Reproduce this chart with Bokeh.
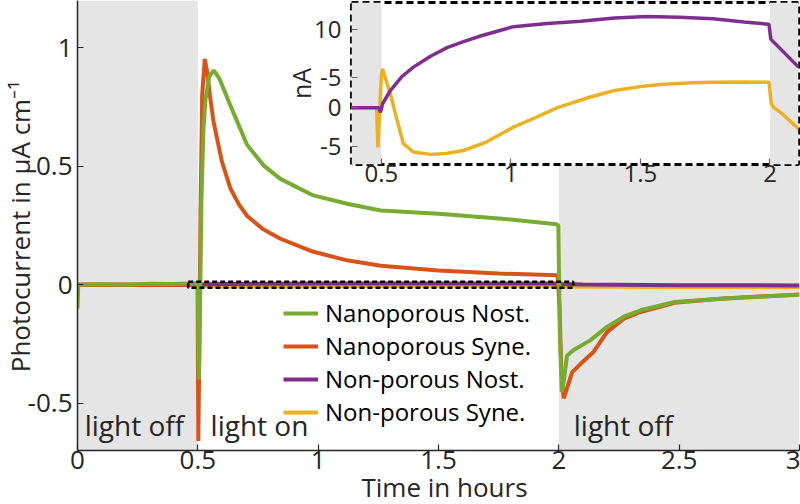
from math import pi
from bokeh.plotting import figure
from bokeh.models import BoxAnnotation, Label, Legend, LegendItem, FixedTicker
from bokeh.embed import file_html
from bokeh.resources import INLINE

# ---------------- data ----------------
# Main chart, photocurrent in µA cm^-1 vs time in hours
green_t = [0, 0.003, 0.01, 0.1, 0.2, 0.3, 0.4, 0.49, 0.5, 0.504, 0.509, 0.515, 0.523,
           0.532, 0.548, 0.566, 0.59, 0.636, 0.705, 0.774, 0.843, 0.98, 1.12, 1.26, 1.5,
           1.75, 1.99, 1.998, 2.004, 2.012, 2.02, 2.034, 2.06, 2.13, 2.2, 2.27, 2.34,
           2.48, 2.68, 3.0]
green_v = [-0.1, 0.0, 0.0, 0.002, 0.0, 0.004, 0.003, 0.006, 0.005, -0.4, -0.1, 0.35, 0.65,
           0.785, 0.88, 0.905, 0.87, 0.755, 0.59, 0.503, 0.447, 0.377, 0.342, 0.313, 0.30,
           0.28, 0.255, 0.25, -0.2, -0.453, -0.41, -0.30, -0.277, -0.235, -0.178, -0.135,
           -0.108, -0.073, -0.059, -0.042]

orange_t = [0, 0.1, 0.3, 0.499, 0.502, 0.506, 0.511, 0.518, 0.529, 0.54, 0.55, 0.565, 0.6,
            0.636, 0.67, 0.705, 0.77, 0.843, 0.98, 1.12, 1.26, 1.5, 1.75, 1.995, 2.003,
            2.01, 2.02, 2.03, 2.055, 2.10, 2.145, 2.2, 2.27, 2.34, 2.48, 2.68, 3.0]
orange_v = [0.0, 0.0, 0.0, 0.0, -0.66, -0.3, 0.3, 0.8, 0.953, 0.89, 0.8, 0.69, 0.52,
            0.405, 0.34, 0.29, 0.235, 0.194, 0.139, 0.103, 0.08, 0.06, 0.047, 0.04, -0.1,
            -0.35, -0.48, -0.45, -0.37, -0.325, -0.283, -0.2, -0.143, -0.115, -0.076,
            -0.058, -0.041]

purple_t = [0, 0.5, 0.52, 0.6, 0.8, 1.0, 1.5, 2.0, 2.01, 2.1, 2.5, 3.0]
purple_v = [0, 0, 0.001, 0.003, 0.004, 0.005, 0.005, 0.005, 0.003, 0.001, -0.002, -0.003]

yellow_t = [0, 0.5, 0.52, 0.6, 1.0, 1.5, 2.0, 2.01, 2.5, 3.0]
yellow_v = [0, 0, -0.004, -0.008, -0.006, -0.004, -0.004, -0.008, -0.01, -0.01]

# Inset, current in nA
ins_purple_t = [0.385, 0.49, 0.497, 0.505, 0.535, 0.58, 0.624, 0.69, 0.754, 0.82, 0.883,
                1.01, 1.14, 1.27, 1.4, 1.527, 1.65, 1.78, 1.9, 1.996, 2.003, 2.11]
ins_purple_v = [0, 0, -0.6, 0.5, 2.2, 4.0, 5.2, 6.6, 7.7, 8.5, 9.2, 10.4, 10.8, 11.1,
                11.5, 11.7, 11.6, 11.4, 11.0, 10.7, 8.8, 5.2]

ins_yellow_t = [0.385, 0.482, 0.487, 0.493, 0.5, 0.505, 0.512, 0.535, 0.56, 0.585, 0.624,
                0.69, 0.75, 0.817, 0.9, 1.01, 1.1, 1.18, 1.3, 1.4, 1.5, 1.59, 1.7, 1.78,
                1.9, 1.996, 2.005, 2.015, 2.04, 2.11]
ins_yellow_v = [0, 0, -5.1, -1.0, 4.0, 5.0, 4.2, 1.75, -1.5, -4.6, -5.7, -6.0, -5.9, -5.5,
                -4.5, -2.5, -1.2, 0.0, 1.3, 2.2, 2.7, 3.0, 3.2, 3.25, 3.3, 3.25, 0.5, 0.0,
                -0.6, -2.7]

series_names = ["Nanoporous Nost.", "Nanoporous Syne.", "Non-porous Nost.", "Non-porous Syne."]
light_on, light_off = 0.5, 2.0
zoom_box_x = [0.46, 2.06]
zoom_box_y = [-0.013, 0.013]

x_ticks = [0, 0.5, 1, 1.5, 2, 2.5, 3]
x_labels = ["0", "0.5", "1", "1.5", "2", "2.5", "3"]
y_ticks = [-0.5, 0, 0.5, 1]
y_labels = ["-0.5", "0", "0.5", "1"]
ins_x_ticks = [0.5, 1, 1.5, 2]
ins_x_labels = ["0.5", "1", "1.5", "2"]
ins_y_ticks = [-5, 0, 3.85, 10]
ins_y_labels = ["-5", "0", "-5", "10"]

x_title = "Time in hours"
y_title = "Photocurrent in µA cm⁻¹"
ins_y_title = "nA"

# ---------------- style ----------------
FONT = "Open Sans"
TXT = "#262626"
GRAY = "#e5e5e5"
C_GREEN, C_ORANGE, C_PURPLE, C_YELLOW = "#77ac30", "#d95319", "#7e2f8e", "#edb120"

# ---------------- main figure ----------------
p = figure(width=800, height=504, x_range=(0, 3), y_range=(-0.7, 1.2),
           output_backend="svg", toolbar_location=None,
           min_border_left=77, min_border_right=1, min_border_top=0, min_border_bottom=54)
p.xgrid.visible = False
p.ygrid.visible = False
p.outline_line_color = None
p.background_fill_color = "white"
p.border_fill_color = "white"

p.add_layout(BoxAnnotation(right=light_on, fill_color=GRAY, fill_alpha=1, line_alpha=0, level="underlay"))
p.add_layout(BoxAnnotation(left=light_off, fill_color=GRAY, fill_alpha=1, line_alpha=0, level="underlay"))

r_y = p.line(yellow_t, yellow_v, line_color=C_YELLOW, line_width=4)
r_p = p.line(purple_t, purple_v, line_color=C_PURPLE, line_width=4)
r_o = p.line(orange_t, orange_v, line_color=C_ORANGE, line_width=4)
r_g = p.line(green_t, green_v, line_color=C_GREEN, line_width=4)

p.quad(left=[zoom_box_x[0]], right=[zoom_box_x[1]], bottom=[zoom_box_y[0]], top=[zoom_box_y[1]],
       fill_alpha=0, line_color="black", line_width=2.5, line_dash="5 3")

for x, txt in [(0.03, "light off"), (0.553, "light on"), (2.062, "light off")]:
    p.add_layout(Label(x=x, y=-0.593, text=txt, text_font=FONT, text_font_size="28px",
                       text_color=TXT, text_baseline="alphabetic"))

legend = Legend(items=[LegendItem(label=n, renderers=[r])
                       for n, r in zip(series_names, [r_g, r_o, r_p, r_y])],
                location=(206, 22), border_line_color=None, background_fill_alpha=0,
                padding=0, margin=0, spacing=0, glyph_width=35, glyph_height=30,
                label_standoff=7, label_text_font=FONT, label_text_font_size="24px",
                label_text_color="black")
p.add_layout(legend)

for ax in (p.xaxis[0], p.yaxis[0]):
    ax.axis_line_color = TXT
    ax.axis_line_width = 1.5
    ax.major_tick_line_color = TXT
    ax.major_tick_line_width = 1.2
    ax.major_tick_in = 6
    ax.major_tick_out = 0
    ax.minor_tick_line_color = None
    ax.major_label_text_font = FONT
    ax.major_label_text_font_size = "26px"
    ax.major_label_text_color = TXT

p.xaxis.ticker = FixedTicker(ticks=x_ticks)
p.xaxis.major_label_overrides = dict(zip(x_ticks, x_labels))
p.xaxis.major_label_standoff = 0

p.yaxis.ticker = FixedTicker(ticks=y_ticks)
p.yaxis.major_label_overrides = dict(zip(y_ticks, y_labels))
p.yaxis.major_label_standoff = 5

# ---------------- inset figure ----------------
ins = figure(width=521, height=206, x_range=(0.385, 2.11), y_range=(-7.3, 13.5),
             output_backend="svg", toolbar_location=None,
             min_border_left=72, min_border_right=2, min_border_top=2, min_border_bottom=42,
             styles={"position": "absolute", "left": "279px", "top": "0px"})
ins.xgrid.visible = False
ins.ygrid.visible = False
ins.border_fill_color = None
ins.background_fill_color = "white"
ins.outline_line_color = "black"
ins.outline_line_width = 3
ins.outline_line_dash = "7 4"

ins.add_layout(BoxAnnotation(right=light_on, fill_color=GRAY, fill_alpha=1, line_alpha=0, level="underlay"))
ins.add_layout(BoxAnnotation(left=light_off, fill_color=GRAY, fill_alpha=1, line_alpha=0, level="underlay"))

ins.line(ins_yellow_t, ins_yellow_v, line_color=C_YELLOW, line_width=3.5)
ins.line(ins_purple_t, ins_purple_v, line_color=C_PURPLE, line_width=3.5)

for ax in (ins.xaxis[0], ins.yaxis[0]):
    ax.axis_line_color = None
    ax.major_tick_line_color = "#666666"
    ax.major_tick_line_width = 1.2
    ax.major_tick_in = 6
    ax.major_tick_out = 0
    ax.minor_tick_line_color = None
    ax.major_label_text_font = FONT
    ax.major_label_text_font_size = "24px"
    ax.major_label_text_color = TXT

ins.xaxis.ticker = FixedTicker(ticks=ins_x_ticks)
ins.xaxis.major_label_overrides = dict(zip(ins_x_ticks, ins_x_labels))
ins.xaxis.major_label_standoff = 0
ins.yaxis.ticker = FixedTicker(ticks=ins_y_ticks)
ins.yaxis.major_label_overrides = dict(zip(ins_y_ticks, ins_y_labels))
ins.yaxis.major_label_standoff = 10

# ---------------- axis titles (transparent overlay in page pixels) ----------------
ttl = figure(width=800, height=504, x_range=(0, 800), y_range=(504, 0),
             x_axis_type=None, y_axis_type=None, output_backend="svg", toolbar_location=None,
             min_border=0, styles={"position": "absolute", "left": "0px", "top": "0px"})
ttl.grid.visible = False
ttl.outline_line_color = None
ttl.background_fill_color = None
ttl.border_fill_color = None
ttl.add_layout(Label(x=444, y=486, text=x_title, text_font=FONT, text_font_size="26px",
                     text_color=TXT, text_align="center", text_baseline="alphabetic"))
ttl.add_layout(Label(x=19, y=226, text=y_title, angle=pi / 2, text_font=FONT,
                     text_font_size="26px", text_color=TXT, text_align="center",
                     text_baseline="alphabetic"))
ttl.add_layout(Label(x=300, y=83, text=ins_y_title, angle=pi / 2, text_font=FONT,
                     text_font_size="25px", text_color=TXT, text_align="center",
                     text_baseline="alphabetic"))

open("out.html", "w").write(file_html([p, ins, ttl], INLINE))
